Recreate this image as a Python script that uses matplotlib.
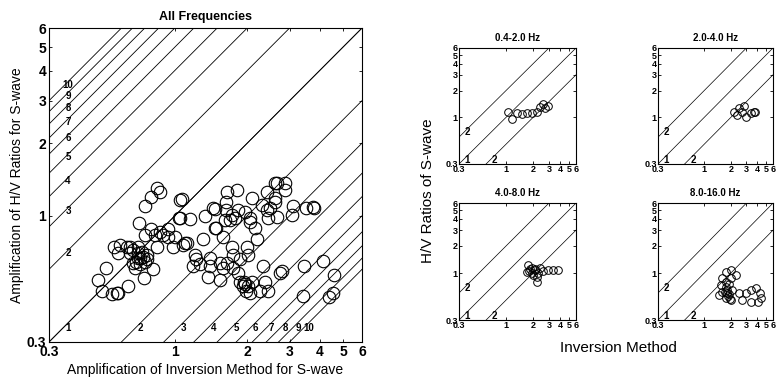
import numpy as np
import matplotlib
matplotlib.use('Agg')
import matplotlib.pyplot as plt
from matplotlib.ticker import NullLocator

plt.rcParams['font.family'] = ['Liberation Sans', 'DejaVu Sans']

# 所有频段 (All Frequencies) 数据: 反演法放大率 x, H/V 比 y
all_x = [0.84, 0.87, 0.80, 0.75, 1.05, 0.71, 0.80, 0.87, 0.94, 0.94, 0.89, 0.75, 0.83, 1.00,
         1.04, 0.84, 0.98, 1.08, 1.12,
         0.56, 0.59, 0.63, 0.58, 0.67, 0.70, 0.70, 0.74, 0.77, 0.67, 0.72, 0.68, 0.77, 0.65,
         0.70, 0.73, 0.72, 0.69, 0.75, 0.65,
         0.81, 0.52, 0.745, 0.48, 0.64, 0.50, 0.55, 0.575, 0.58,
         1.65, 1.82, 1.07, 1.44, 1.05, 1.16, 1.34, 1.64, 1.64, 1.73, 1.78, 1.70, 1.61, 1.83,
         1.96, 2.06, 2.06, 2.10, 2.30, 2.42, 2.42, 2.44, 2.61, 2.66, 2.61, 2.16, 2.20, 1.47,
         1.58, 1.31, 1.10, 1.21, 1.23, 1.19, 1.27, 1.40, 1.40, 1.54, 1.58, 1.65, 1.75, 1.73,
         1.75, 2.00, 2.02, 1.87, 1.38, 1.54, 1.83, 1.87, 1.96, 2.02, 1.92, 2.10, 2.26, 2.37,
         2.44, 2.33, 2.74, 1.98, 2.06, 1.94, 1.47, 1.48,
         2.66, 2.87, 2.87, 2.61, 2.49, 3.10, 3.07, 3.50, 3.74, 3.78,
         2.79, 3.43, 4.15, 4.57, 3.40, 4.53, 4.36]
all_y = [1.31, 1.25, 1.20, 1.10, 1.16, 0.93, 0.88, 0.86, 0.88, 0.82, 0.83, 0.83, 0.83, 0.82,
         0.98, 0.745, 0.745, 0.76, 0.775,
         0.745, 0.76, 0.74, 0.70, 0.72, 0.70, 0.67, 0.675, 0.66, 0.64, 0.63, 0.61, 0.69, 0.70,
         0.745, 0.71, 0.67, 0.645, 0.645, 0.74,
         0.60, 0.61, 0.555, 0.54, 0.51, 0.49, 0.475, 0.48, 0.48,
         1.26, 1.28, 1.17, 1.08, 0.98, 0.97, 1.00, 1.14, 1.06, 1.01, 0.98, 0.96, 0.96, 1.06,
         1.04, 0.98, 0.94, 1.19, 1.11, 1.25, 1.06, 0.98, 1.14, 0.99, 1.37, 0.89, 0.80, 0.89,
         0.82, 0.80, 0.775, 0.69, 0.66, 0.62, 0.63, 0.67, 0.62, 0.64, 0.61, 0.64, 0.61, 0.74,
         0.69, 0.745, 0.69, 0.66, 0.56, 0.54, 0.58, 0.53, 0.52, 0.51, 0.51, 0.53, 0.49, 0.53,
         0.49, 0.62, 0.58, 0.49, 0.48, 0.53, 1.07, 0.89,
         1.37, 1.37, 1.28, 1.19, 1.08, 1.10, 1.01, 1.08, 1.09, 1.08,
         0.59, 0.62, 0.65, 0.57, 0.465, 0.48, 0.46]

# 分频段数据
band_titles = ['0.4-2.0 Hz', '2.0-4.0 Hz', '4.0-8.0 Hz', '8.0-16.0 Hz']
b1_x = [1.05, 1.17, 1.33, 1.51, 1.72, 1.95, 2.22, 2.39, 2.59, 2.94, 2.72]
b1_y = [1.14, 0.97, 1.11, 1.08, 1.11, 1.11, 1.14, 1.29, 1.40, 1.33, 1.26]
b2_x = [2.16, 2.45, 2.79, 2.33, 2.94, 3.34, 3.70, 3.80, 2.65]
b2_y = [1.14, 1.26, 1.33, 1.05, 1.00, 1.11, 1.14, 1.14, 1.14]
b3_x = [1.76, 1.95, 1.72, 2.10, 2.28, 2.59, 2.94, 3.34, 3.80, 2.22, 1.95, 2.39,
        1.85, 2.00, 2.10, 1.80, 2.20]
b3_y = [1.23, 1.14, 1.03, 1.08, 1.00, 1.05, 1.08, 1.08, 1.08, 0.80, 1.00, 1.14,
        1.10, 0.95, 1.12, 1.05, 0.90]
b4_x = [1.76, 2.00, 1.59, 2.00, 2.28, 1.55, 1.76, 1.59, 1.81, 2.05, 1.76, 2.00, 1.47,
        2.45, 2.94, 3.34, 3.90, 4.31, 4.42, 3.42, 4.10, 2.65,
        1.80, 1.90, 1.85, 1.70, 1.95, 1.75, 1.90]
b4_y = [1.03, 1.08, 0.88, 0.88, 0.95, 0.74, 0.70, 0.61, 0.60, 0.65, 0.53, 0.50, 0.57,
        0.60, 0.60, 0.65, 0.68, 0.60, 0.53, 0.48, 0.48, 0.50,
        0.65, 0.58, 0.55, 0.62, 0.52, 0.80, 0.75]

ticks = [0.3, 1, 2, 3, 4, 5, 6]
tick_labels = ['0.3', '1', '2', '3', '4', '5', '6']
ratios = np.arange(1, 11)
line_x = np.array([0.3, 6.0])


def setup(ax, fs):
    ax.set_xscale('log')
    ax.set_yscale('log')
    ax.set_xlim(0.3, 6)
    ax.set_ylim(0.3, 6)
    ax.xaxis.set_minor_locator(NullLocator())
    ax.yaxis.set_minor_locator(NullLocator())
    ax.set_xticks(ticks)
    ax.set_xticklabels(tick_labels, fontsize=fs, fontweight='bold')
    ax.set_yticks(ticks)
    ax.set_yticklabels(tick_labels, fontsize=fs, fontweight='bold')
    ax.tick_params(length=2, width=0.6, direction='in', pad=2, top=True, right=True)
    for s in ax.spines.values():
        s.set_linewidth(0.8)


fig = plt.figure(figsize=(7.78, 3.81), dpi=100)

# 主图
ax = fig.add_axes([0.063, 0.1024, 0.4023, 0.824])
setup(ax, 10)
for k in ratios:
    ax.plot(line_x, line_x / k, color='black', lw=0.6)
    ax.plot(line_x, line_x * k, color='black', lw=0.6)
    ax.text(0.344 * k * 1.05, 0.344, str(k), fontsize=7, fontweight='bold',
            ha='center', va='center')
    if k > 1:
        ax.text(0.36, 0.35 * k, str(k), fontsize=7, fontweight='bold',
                ha='center', va='center')
ax.plot(all_x, all_y, 'o', mfc='none', mec='black', ms=9, mew=0.8)
ax.set_title('All Frequencies', fontsize=9, fontweight='bold', pad=6)
ax.set_xlabel('Amplification of Inversion Method for S-wave', fontsize=10, labelpad=3)
ax.set_ylabel('Amplification of H/V Ratios for S-wave', fontsize=10, labelpad=2)

# 四个小图
pos = [[0.590, 0.5696, 0.1504, 0.3045], [0.8458, 0.5696, 0.1478, 0.3045],
       [0.590, 0.160, 0.1504, 0.307], [0.8458, 0.160, 0.1478, 0.307]]
bx = [b1_x, b2_x, b3_x, b4_x]
by = [b1_y, b2_y, b3_y, b4_y]
for i in range(4):
    a = fig.add_axes(pos[i])
    setup(a, 6.5)
    a.tick_params(pad=1)
    for k in [1, 2]:
        a.plot(line_x, line_x * k, color='black', lw=0.5)
    a.plot(line_x, line_x / 2, color='black', lw=0.5)
    a.text(0.37, 0.68, '2', fontsize=7, fontweight='bold', ha='center', va='center')
    a.text(0.37, 0.335, '1', fontsize=7, fontweight='bold', ha='center', va='center')
    a.text(0.75, 0.335, '2', fontsize=7, fontweight='bold', ha='center', va='center')
    a.plot(bx[i], by[i], 'o', mfc='none', mec='black', ms=5.5, mew=0.7)
    a.set_title(band_titles[i], fontsize=7, fontweight='bold', pad=5)

fig.text(0.55, 0.50, 'H/V Ratios of S-wave', rotation=90, fontsize=11,
         ha='center', va='center')
fig.text(0.795, 0.086, 'Inversion Method', fontsize=11, ha='center', va='center')

plt.savefig('out.png', dpi=100)
